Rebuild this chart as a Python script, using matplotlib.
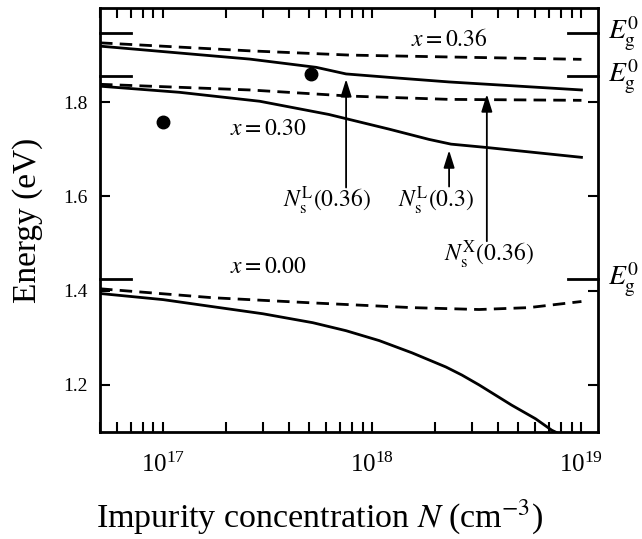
import matplotlib
matplotlib.use('Agg')
import matplotlib.pyplot as plt
import numpy as np
from matplotlib.ticker import NullFormatter, NullLocator, LogLocator

plt.rcParams['font.family'] = 'Liberation Serif'
plt.rcParams['mathtext.fontset'] = 'stix'

# --- data (N in cm^-3, E in eV) ---
N_s36 = [5e16, 2.6e17, 5.4e17, 7.5e17, 1.35e18, 2.33e18, 1e19]
E_s36 = [1.919, 1.8915, 1.874, 1.860, 1.851, 1.843, 1.826]

N_d36 = [5e16, 2.6e17, 7.8e17, 2.33e18, 1e19]
E_d36 = [1.926, 1.909, 1.900, 1.896, 1.891]

N_s30 = [5e16, 1.2e17, 2.9e17, 6.2e17, 1.2e18, 1.87e18, 2.38e18, 3.5e18, 1e19]
E_s30 = [1.834, 1.821, 1.802, 1.774, 1.743, 1.721, 1.711, 1.704, 1.683]

N_d30 = [5e16, 2.6e17, 7.8e17, 2.33e18, 1e19]
E_d30 = [1.838, 1.826, 1.813, 1.806, 1.804]

N_s00 = [5e16, 1e17, 1.73e17, 3.0e17, 5.2e17, 7.5e17, 1.08e18, 1.55e18,
         2.25e18, 2.68e18, 3.24e18, 4.64e18, 6.04e18, 7.2e18, 8e18]
E_s00 = [1.394, 1.381, 1.366, 1.351, 1.332, 1.315, 1.294, 1.268,
         1.238, 1.221, 1.200, 1.157, 1.128, 1.104, 1.094]

N_d00 = [5e16, 1.73e17, 5.2e17, 1.55e18, 3.24e18, 5.6e18, 1e19]
E_d00 = [1.404, 1.385, 1.374, 1.364, 1.360, 1.364, 1.377]

# experimental points
N_exp = [1e17, 5.07e17]
E_exp = [1.757, 1.860]

# unperturbed gap levels E_g^0 for x = 0.36, 0.30, 0.00
Eg0 = [1.947, 1.856, 1.4245]

# arrows: (tip N, tip E, tail E, label, label N, label E)
arrows = [
    (7.5e17, 1.849, 1.619, r'$N_{\rm s}^{\rm L}(0.36)$', 6.1e17, 1.624),
    (2.33e18, 1.698, 1.621, r'$N_{\rm s}^{\rm L}(0.3)$', 2.02e18, 1.624),
    (3.53e18, 1.817, 1.505, r'$N_{\rm s}^{\rm X}(0.36)$', 3.6e18, 1.511),
]

fig = plt.figure(figsize=(6.42, 5.39), dpi=100)
ax = fig.add_axes([0.1558, 0.1985, 0.7757, 0.7867])

dash = (0, (4.5, 2.6))
lw = 2.0
ax.plot(N_s36, E_s36, '-k', lw=lw)
ax.plot(N_d36, E_d36, color='k', lw=lw, linestyle=dash)
ax.plot(N_s30, E_s30, '-k', lw=lw)
ax.plot(N_d30, E_d30, color='k', lw=lw, linestyle=dash)
ax.plot(N_s00, E_s00, '-k', lw=lw)
ax.plot(N_d00, E_d00, color='k', lw=lw, linestyle=dash)
ax.plot(N_exp, E_exp, 'ok', markersize=9)

ax.set_xscale('log')
ax.set_xlim(5e16, 1.2e19)
ax.set_ylim(1.1, 2.0)
ax.set_yticks([1.2, 1.4, 1.6, 1.8])
ax.yaxis.set_minor_locator(NullLocator())
ax.xaxis.set_major_locator(LogLocator(base=10))
ax.xaxis.set_minor_locator(LogLocator(base=10, subs=np.arange(2, 10)))
ax.xaxis.set_minor_formatter(NullFormatter())

ax.tick_params(which='both', direction='in', top=True, right=True,
               length=7, width=1.5)
ax.tick_params(axis='x', which='both', labelsize=18, pad=15)
ax.tick_params(axis='y', labelsize=14, pad=9)
for s in ax.spines.values():
    s.set_linewidth(2)

# long E_g^0 ticks on both sides
trans = ax.get_yaxis_transform()
for e in Eg0:
    ax.plot([0, 0.062], [e, e], '-k', lw=2, transform=trans, clip_on=False)
    ax.plot([0.94, 1], [e, e], '-k', lw=2, transform=trans, clip_on=False)
    ax.text(1.02, e, r'$E_{\rm g}^{0}$', transform=trans, fontsize=20,
            ha='left', va='center')

ax.text(1.53e18, 1.932, r'$x = 0.36$', fontsize=17, ha='left', va='center')
ax.text(2.08e17, 1.743, r'$x = 0.30$', fontsize=17, ha='left', va='center')
ax.text(2.08e17, 1.449, r'$x = 0.00$', fontsize=17, ha='left', va='center')

for nt, et, etail, lab, nl, el in arrows:
    ax.annotate('', xy=(nt, et), xytext=(nt, etail),
                arrowprops=dict(arrowstyle='-|>,head_length=0.7,head_width=0.22',
                                mutation_scale=15, color='k', lw=1.3,
                                shrinkA=0, shrinkB=0))
    ax.text(nl, el, lab, fontsize=17, ha='center', va='top')

ax.set_ylabel('Energy (eV)', fontsize=24)
ax.yaxis.set_label_coords(-0.114, 0.5)
fig.text(320 / 642, 1 - 517 / 539, r'Impurity concentration $N$ (cm$^{-3}$)',
         fontsize=24.5, ha='center', va='center')

fig.savefig('out.png', dpi=100)
